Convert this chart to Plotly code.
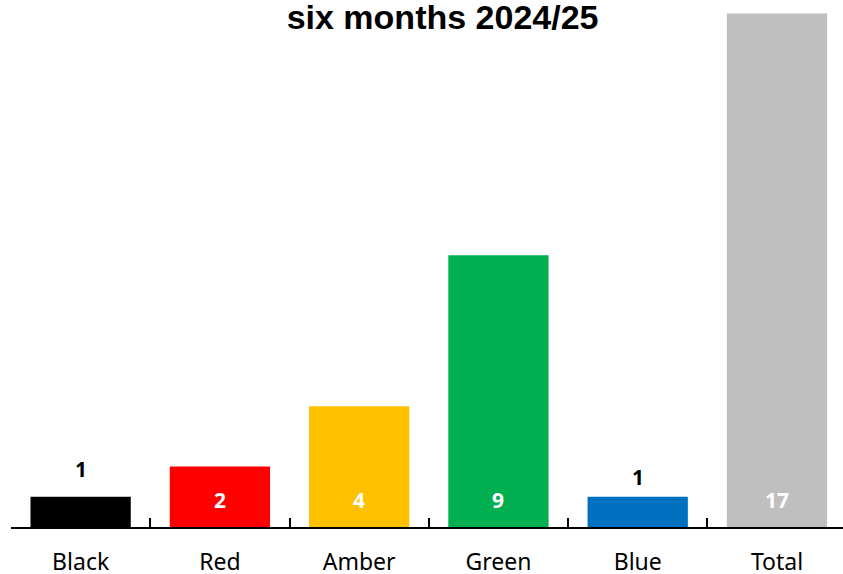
import plotly.graph_objects as go

categories = ["Black", "Red", "Amber", "Green", "Blue", "Total"]
values = [1, 2, 4, 9, 1, 17]
colors = ["#000000", "#FF0000", "#FFC000", "#00B050", "#0070C0", "#BFBFBF"]
title_text = "six months 2024/25"

fig = go.Figure()
fig.add_trace(go.Bar(
    x=categories, y=values, marker=dict(color=colors, line=dict(width=0)),
    width=0.72, hoverinfo="skip", showlegend=False,
))

label_font = "Noto Sans, Open Sans, sans-serif"
for cat, v in zip(categories, values):
    if v <= 1:
        ys, col = (28 if cat == "Black" else 20), "#000000"
        yy = v
    else:
        ys, col = 27, "#FFFFFF"
        yy = 0
    fig.add_annotation(x=cat, y=yy, yshift=ys, text=f"<b>{v}</b>", showarrow=False,
                       font=dict(size=21, color=col, family=label_font),
                       xanchor="center", yanchor="middle")

fig.update_layout(
    width=843, height=574,
    margin=dict(l=11, r=0, t=0, b=47, autoexpand=False),
    paper_bgcolor="white", plot_bgcolor="white",
    title=dict(text=f"<b>{title_text}</b>", x=0.525, xanchor="center",
               y=0.97, yanchor="middle", yref="container",
               font=dict(size=34, color="#000000",
                         family="Liberation Sans Narrow, Arial Narrow, Liberation Sans, sans-serif")),
    xaxis=dict(range=[-0.5, 5.474], showline=True, linecolor="#000000", linewidth=1.5,
               ticks="inside", tickson="boundaries", ticklen=9, tickwidth=1.5,
               tickcolor="#000000", ticklabelstandoff=14, automargin=False,
               tickfont=dict(size=23, color="#000000", family=label_font),
               showgrid=False, zeroline=False, fixedrange=True),
    yaxis=dict(range=[0, 17.45], visible=False, showgrid=False, zeroline=False,
               automargin=False),
)

fig.write_html("out.html", config={"displayModeBar": False},
               post_script="document.body.style.margin='0px';document.body.style.overflow='hidden';")
